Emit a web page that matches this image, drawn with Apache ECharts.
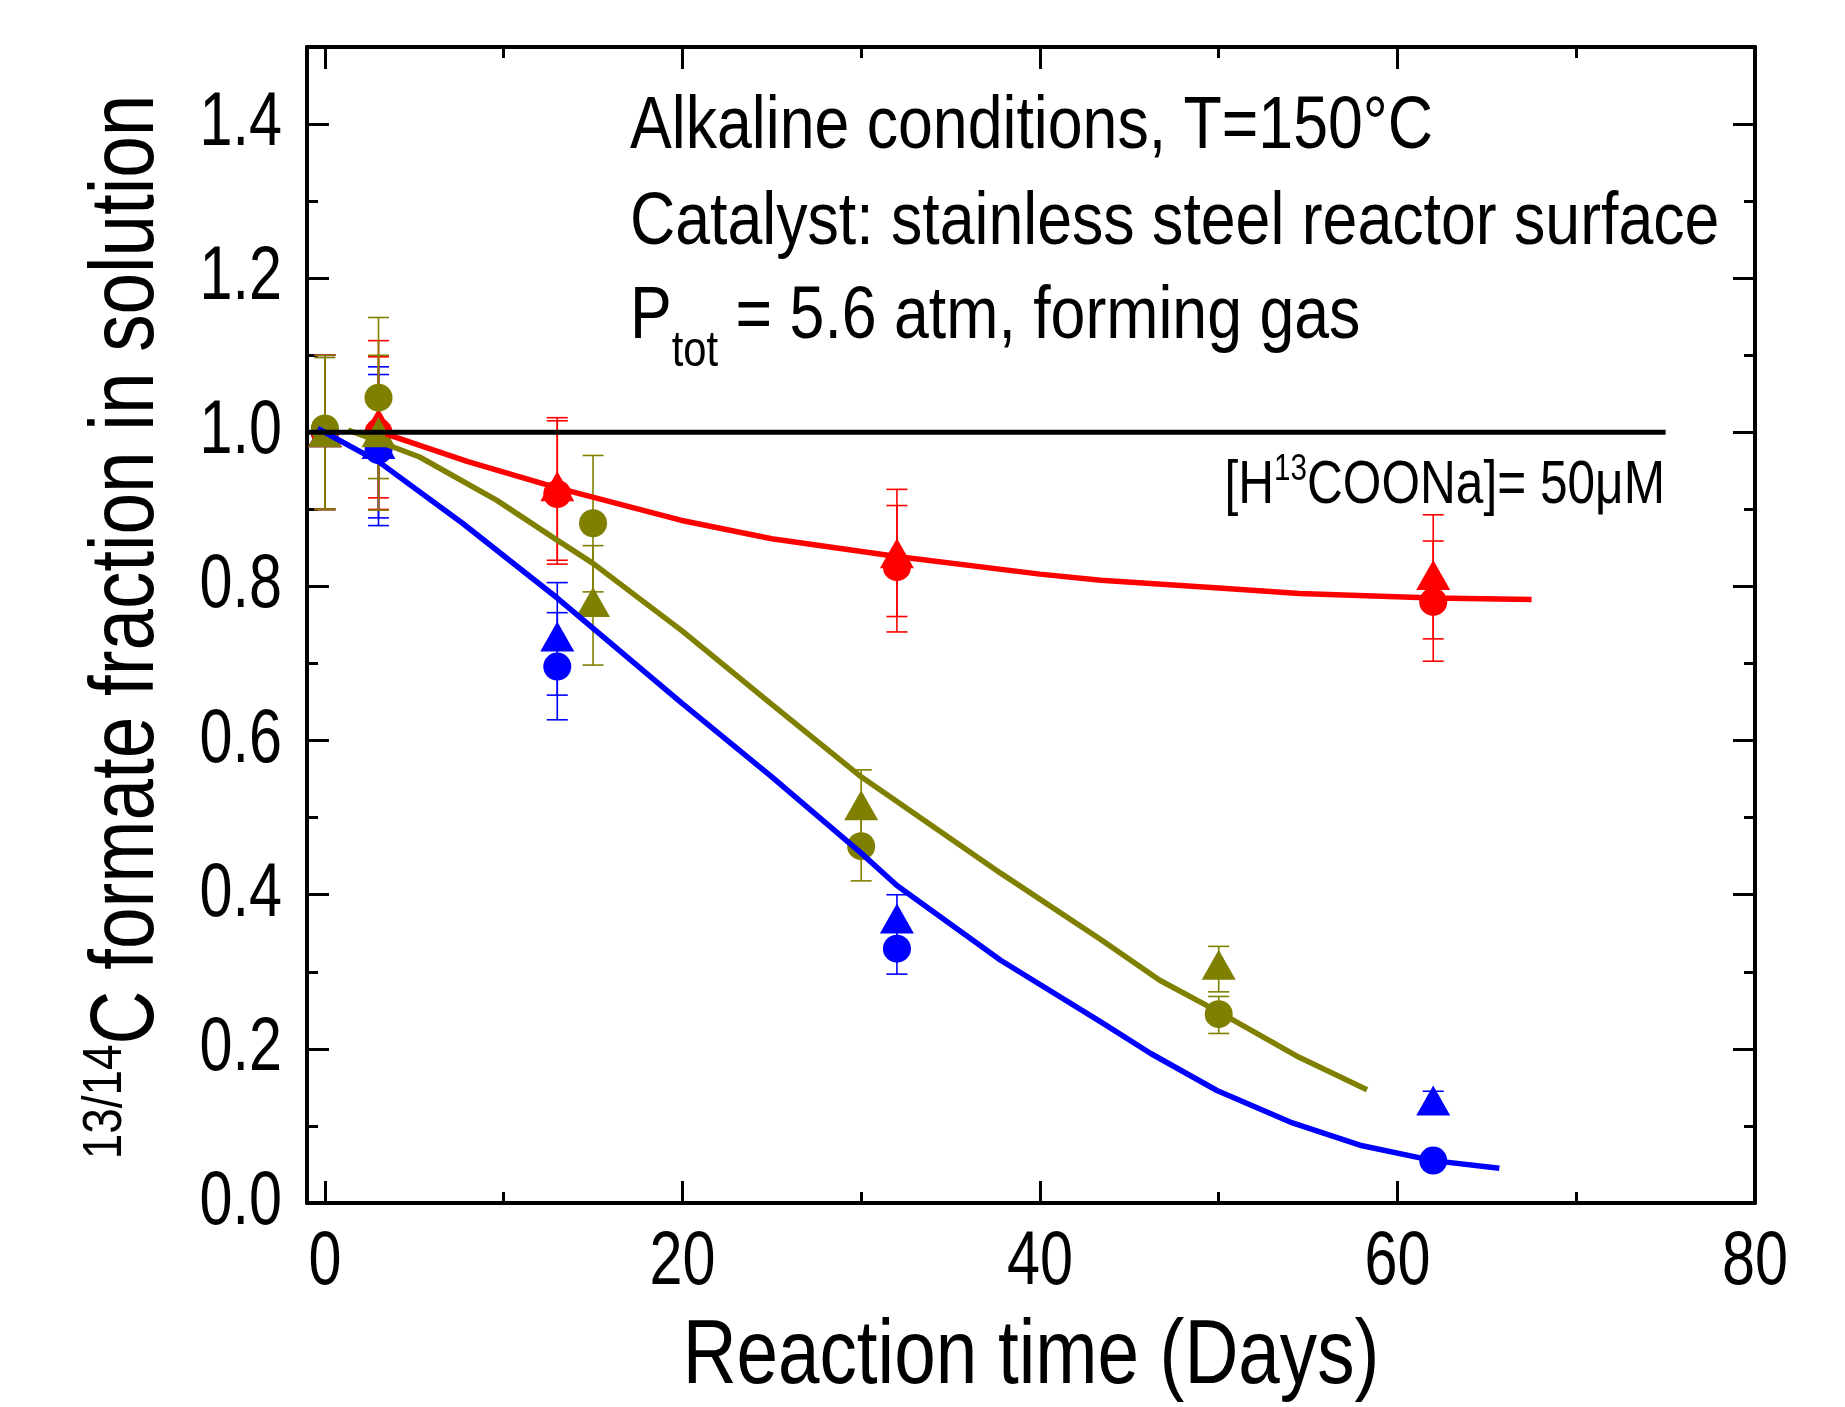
<!DOCTYPE html>
<html><head><meta charset="utf-8">
<script src="https://cdn.jsdelivr.net/npm/echarts@6/dist/echarts.min.js"></script>
<style>html,body{margin:0;padding:0;background:#fff}#c{width:1845px;height:1407px}</style>
</head><body><div id="c"></div>
<script>
// ---- axis ranges and tick values ----
const X_MIN = -1, X_MAX = 80, Y_MIN = 0, Y_MAX = 1.5;
const xMajorTicks = [0, 20, 40, 60, 80];
const xMinorTicks = [10, 30, 50, 70];
const yMajorTicks = [0, 0.2, 0.4, 0.6, 0.8, 1.0, 1.2, 1.4];
const yMinorTicks = [0.1, 0.3, 0.5, 0.7, 0.9, 1.1, 1.3];

// ---- red (circles / triangles): day, value, error low, error high ----
const redCircleX  = [0, 3, 13, 32, 62];
const redCircleY  = [1.0, 1.0, 0.92, 0.825, 0.78];
const redCircleLo = [0.9, 0.9, 0.829, 0.741, 0.703];
const redCircleHi = [1.1, 1.098, 1.015, 0.905, 0.859];
const redTriX  = [0, 3, 13, 32, 62];
const redTriY  = [1.0, 1.012, 0.93, 0.843, 0.815];
const redTriLo = [0.9, 0.915, 0.834, 0.761, 0.732];
const redTriHi = [1.1, 1.119, 1.019, 0.926, 0.893];

// ---- blue ----
const blueCircleX  = [0, 3, 13, 32, 62];
const blueCircleY  = [1.0, 0.977, 0.696, 0.33, 0.055];
const blueCircleLo = [0.9, 0.879, 0.627, 0.297, 0.05];
const blueCircleHi = [1.1, 1.075, 0.766, 0.363, 0.06];
const blueTriX  = [0, 3, 13, 32, 62];
const blueTriY  = [1.0, 0.985, 0.735, 0.369, 0.133];
const blueTriLo = [0.9, 0.889, 0.659, 0.337, 0.121];
const blueTriHi = [1.1, 1.085, 0.805, 0.40, 0.145];

// ---- olive ----
const oliveCircleX  = [0, 3, 15, 30, 50];
const oliveCircleY  = [1.005, 1.045, 0.882, 0.463, 0.245];
const oliveCircleLo = [0.9, 0.94, 0.793, 0.418, 0.22];
const oliveCircleHi = [1.1, 1.149, 0.97, 0.508, 0.268];
const oliveTriX  = [0, 3, 15, 30, 50];
const oliveTriY  = [1.0, 1.0, 0.78, 0.516, 0.309];
const oliveTriLo = [0.9, 0.899, 0.698, 0.47, 0.274];
const oliveTriHi = [1.097, 1.10, 0.853, 0.562, 0.333];

// ---- fitted curves ----
const redFitX  = [3.4, 8, 13, 19.9, 25, 32, 40, 43.4, 50, 54.5, 62, 67.5];
const redFitY  = [0.998, 0.962, 0.928, 0.886, 0.862, 0.839, 0.816, 0.808, 0.798, 0.791, 0.785, 0.783];
const oliveFitX = [1.3, 5.3, 9.6, 12.8, 15, 20, 25, 30, 37.8, 43.4, 46.7, 50, 54.5, 58.3];
const oliveFitY = [1.003, 0.968, 0.912, 0.863, 0.83, 0.742, 0.647, 0.553, 0.428, 0.342, 0.289, 0.248, 0.189, 0.147];
const blueFitX = [-0.4, 3, 7.7, 13, 20, 25, 30, 32, 37.8, 43.4, 46.2, 49.9, 54, 57.9, 62, 65.7];
const blueFitY = [1.005, 0.962, 0.882, 0.785, 0.648, 0.553, 0.454, 0.412, 0.315, 0.235, 0.194, 0.146, 0.105, 0.075, 0.055, 0.045];
const refLineX = [-1, 75];
const refLineY = [1.0, 1.0];

const RED = '#ff0000', BLUE = '#0000ff', OLIVE = '#808000';
const SANS = "'Liberation Sans',Arial,sans-serif";
const LABEL_FS = 76, LABEL_SCALE = 0.78;

const zip2 = (a, b) => a.map((v, i) => [v, b[i]]);
const zip3 = (a, b, c) => a.map((v, i) => [v, b[i], c[i]]);

function errRender(color) {
  return function (params, api) {
    const x = api.value(0), lo = api.value(1), hi = api.value(2);
    const pLo = api.coord([x, lo]), pHi = api.coord([x, hi]);
    const w = 10.5;
    const style = { stroke: color, lineWidth: 1.6, fill: null };
    return { type: 'group', children: [
      { type: 'line', shape: { x1: pLo[0], y1: pLo[1], x2: pHi[0], y2: pHi[1] }, style: style },
      { type: 'line', shape: { x1: pLo[0] - w, y1: pLo[1], x2: pLo[0] + w, y2: pLo[1] }, style: style },
      { type: 'line', shape: { x1: pHi[0] - w, y1: pHi[1], x2: pHi[0] + w, y2: pHi[1] }, style: style }
    ]};
  };
}
function errSeries(color, xs, lo, hi) {
  return { type: 'custom', renderItem: errRender(color), data: zip3(xs, lo, hi),
    encode: { x: 0, y: [1, 2] }, silent: true, z: 2 };
}
function scat(color, sym, size, xs, ys) {
  return { type: 'scatter', symbol: sym, symbolSize: size, data: zip2(xs, ys),
    itemStyle: { color: color, opacity: 1 }, silent: true, z: 3 };
}
function fit(color, xs, ys, w) {
  return { type: 'line', data: zip2(xs, ys), showSymbol: false, symbol: 'none', smooth: false,
    lineStyle: { color: color, width: w }, silent: true, z: 4 };
}
// condensed tick labels, placed through the axes' own scales
const xTickLabelSeries = {
  type: 'custom', clip: false, silent: true, z: 5,
  data: xMajorTicks.map(v => [v]), encode: { x: 0 },
  renderItem: function (params, api) {
    const v = api.value(0);
    const p = api.coord([v, Y_MIN]);
    return { type: 'text', x: p[0], y: p[1] + 60, scaleX: LABEL_SCALE,
      style: { text: String(v), fontSize: LABEL_FS, fontFamily: SANS, fill: '#000',
        align: 'center', verticalAlign: 'middle', textAlign: 'center', textVerticalAlign: 'middle' } };
  }
};
const yTickLabelSeries = {
  type: 'custom', clip: false, silent: true, z: 5,
  data: yMajorTicks.map(v => [X_MIN, v]), encode: { x: 0, y: 1 },
  renderItem: function (params, api) {
    const v = api.value(1);
    const p = api.coord([X_MIN, v]);
    return { type: 'text', x: p[0] - 25, y: p[1], scaleX: LABEL_SCALE,
      style: { text: v.toFixed(1), fontSize: LABEL_FS, fontFamily: SANS, fill: '#000',
        align: 'right', verticalAlign: 'middle', textAlign: 'right', textVerticalAlign: 'middle' } };
  }
};

const axisLineStyle = { color: '#000', width: 4 };
function xAxisDef(pos, ticks, len, showLine) {
  return { type: 'value', min: X_MIN, max: X_MAX, position: pos,
    axisLine: { show: showLine, onZero: false, lineStyle: axisLineStyle },
    axisTick: { show: true, inside: true, length: len, lineStyle: { color: '#000', width: 3 }, customValues: ticks },
    axisLabel: { show: false }, splitLine: { show: false } };
}
function yAxisDef(pos, ticks, len, showLine) {
  return { type: 'value', min: Y_MIN, max: Y_MAX, position: pos,
    axisLine: { show: showLine, onZero: false, lineStyle: axisLineStyle },
    axisTick: { show: true, inside: true, length: len, lineStyle: { color: '#000', width: 3 }, customValues: ticks },
    axisLabel: { show: false }, splitLine: { show: false } };
}

const chart = echarts.init(document.getElementById('c'), null, { renderer: 'canvas' });
chart.setOption({
  animation: false,
  backgroundColor: '#fff',
  grid: { left: 307, right: 90, top: 47, bottom: 204, containLabel: false },
  xAxis: [
    xAxisDef('bottom', xMajorTicks, 22, true),
    xAxisDef('bottom', xMinorTicks, 11, false),
    xAxisDef('top', xMajorTicks, 22, true),
    xAxisDef('top', xMinorTicks, 11, false)
  ],
  yAxis: [
    yAxisDef('left', yMajorTicks, 22, true),
    yAxisDef('left', yMinorTicks, 11, false),
    yAxisDef('right', yMajorTicks, 22, true),
    yAxisDef('right', yMinorTicks, 11, false)
  ],
  series: [
    errSeries(BLUE, blueCircleX, blueCircleLo, blueCircleHi),
    errSeries(BLUE, blueTriX, blueTriLo, blueTriHi),
    errSeries(RED, redCircleX, redCircleLo, redCircleHi),
    errSeries(RED, redTriX, redTriLo, redTriHi),
    errSeries(OLIVE, oliveCircleX, oliveCircleLo, oliveCircleHi),
    errSeries(OLIVE, oliveTriX, oliveTriLo, oliveTriHi),
    scat(BLUE, 'circle', 28, blueCircleX, blueCircleY),
    scat(BLUE, 'triangle', [34, 30], blueTriX, blueTriY),
    scat(RED, 'circle', 28, redCircleX, redCircleY),
    scat(RED, 'triangle', [34, 30], redTriX, redTriY),
    scat(OLIVE, 'circle', 28, oliveCircleX, oliveCircleY),
    scat(OLIVE, 'triangle', [34, 30], oliveTriX, oliveTriY),
    fit(BLUE, blueFitX, blueFitY, 5.5),
    fit(OLIVE, oliveFitX, oliveFitY, 5.5),
    fit(RED, redFitX, redFitY, 5.5),
    fit('#000', refLineX, refLineY, 5),
    xTickLabelSeries,
    yTickLabelSeries
  ],
  graphic: [
    { type: 'text', x: 630, y: 127, scaleX: 0.835, silent: true,
      style: { text: 'Alkaline conditions, T=150°C', font: '75px ' + SANS, fill: '#000',
        align: 'left', verticalAlign: 'middle', textAlign: 'left', textVerticalAlign: 'middle' } },
    { type: 'text', x: 630, y: 223, scaleX: 0.835, silent: true,
      style: { text: 'Catalyst: stainless steel reactor surface', font: '75px ' + SANS, fill: '#000',
        align: 'left', verticalAlign: 'middle', textAlign: 'left', textVerticalAlign: 'middle' } },
    { type: 'text', x: 630, y: 317, scaleX: 0.835, silent: true,
      style: { text: '{m|P}{sub|tot}{m| = 5.6 atm, forming gas}', fill: '#000',
        align: 'left', verticalAlign: 'middle', textAlign: 'left', textVerticalAlign: 'middle',
        rich: {
          m: { fontSize: 75, fontFamily: SANS, lineHeight: 120, fill: '#000', color: '#000' },
          sub: { fontSize: 50, fontFamily: SANS, lineHeight: 20, verticalAlign: 'bottom', fill: '#000', color: '#000' }
        } } },
    { type: 'text', x: 1665, y: 486, scaleX: 0.80, silent: true,
      style: { text: '{m|[H}{sup|13}{m|COONa]= 50μM}', fill: '#000',
        align: 'right', verticalAlign: 'middle', textAlign: 'right', textVerticalAlign: 'middle',
        rich: {
          m: { fontSize: 62, fontFamily: SANS, lineHeight: 70, fill: '#000', color: '#000' },
          sup: { fontSize: 37, fontFamily: SANS, lineHeight: 25, verticalAlign: 'top', fill: '#000', color: '#000' }
        } } },
    { type: 'text', x: 1031, y: 1358, scaleX: 0.82, silent: true,
      style: { text: 'Reaction time (Days)', font: '91px ' + SANS, fill: '#000',
        align: 'center', verticalAlign: 'middle', textAlign: 'center', textVerticalAlign: 'middle' } },
    { type: 'text', x: 128, y: 627, rotation: Math.PI / 2, scaleX: 0.82, silent: true,
      style: { text: '{sup|13/14}{m|C formate fraction in solution}', fill: '#000',
        align: 'center', verticalAlign: 'middle', textAlign: 'center', textVerticalAlign: 'middle',
        rich: {
          m: { fontSize: 91, fontFamily: SANS, lineHeight: 100, fill: '#000', color: '#000' },
          sup: { fontSize: 56, fontFamily: SANS, lineHeight: 38, verticalAlign: 'top', fill: '#000', color: '#000' }
        } } }
  ]
});
</script>
</body></html>
